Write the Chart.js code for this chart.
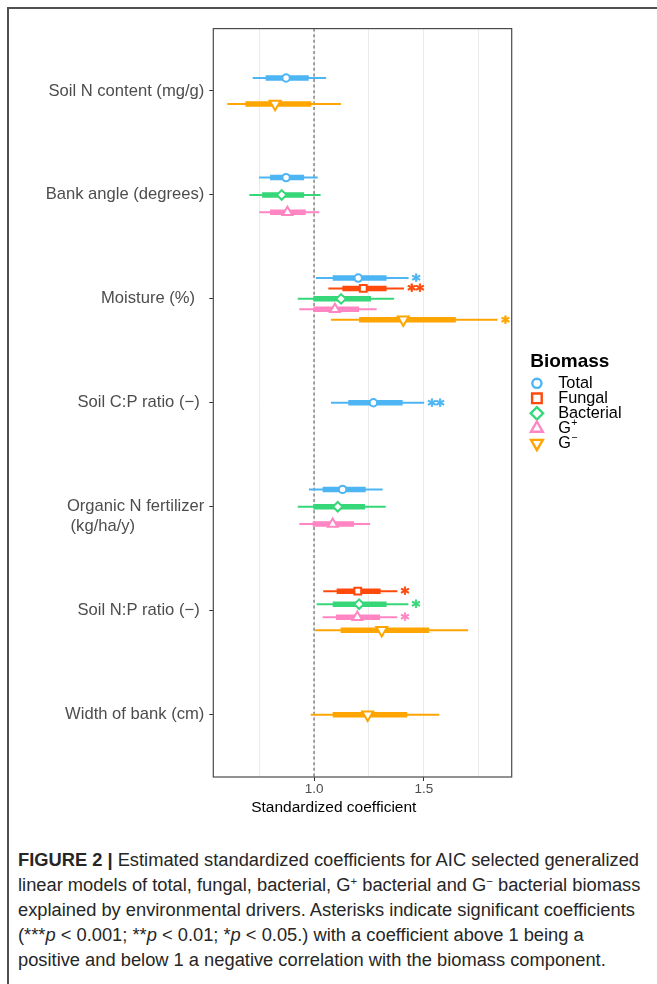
<!DOCTYPE html>
<html>
<head>
<meta charset="utf-8">
<title>Standardized coefficients</title>
<script src="https://cdn.jsdelivr.net/npm/chart.js"></script>
<style>
  html, body { margin: 0; padding: 0; background: #fff; width: 657px; height: 984px; overflow: hidden; }
  #frame { position: absolute; left: 7px; top: 7px; width: 720px; height: 1020px;
           border-top: 2px solid #505050; border-left: 2px solid #505050; }
  #wrap { position: absolute; left: 0; top: 0; width: 657px; height: 830px; }
  #caption { position: absolute; left: 18px; top: 848px; font-family: "Liberation Sans", Arial, sans-serif;
             font-size: 18px; line-height: 25px; color: #262626; white-space: nowrap; transform-origin: 0 0; }
  #caption span.line { display: inline-block; }
  #caption sup { font-size: 0.62em; line-height: 0; vertical-align: 0.5em; }
</style>
</head>
<body>
<div id="frame"></div>
<div id="wrap"><canvas id="chart" width="657" height="830"></canvas></div>
<div id="caption">
  <div><span class="line" id="firstLine"><b>FIGURE 2 |</b> Estimated standardized coefficients for AIC selected generalized</span></div>
  <div><span class="line">linear models of total, fungal, bacterial, G<sup>+</sup> bacterial and G<sup>−</sup> bacterial biomass</span></div>
  <div><span class="line">explained by environmental drivers. Asterisks indicate significant coefficients</span></div>
  <div><span class="line">(***<i>p</i> &lt; 0.001; **<i>p</i> &lt; 0.01; *<i>p</i> &lt; 0.05.) with a coefficient above 1 being a</span></div>
  <div><span class="line">positive and below 1 a negative correlation with the biomass component.</span></div>
</div>
<script>
// Environmental drivers (top to bottom)
const categories = [
  "Soil N content (mg/g)",
  "Bank angle (degrees)",
  "Moisture (%)",
  "Soil C:P ratio (−)",
  "Organic N fertilizer (kg/ha/y)",
  "Soil N:P ratio (−)",
  "Width of bank (cm)"
];

// Axis tick labels as printed next to the panel
const yTickLabels = [
  "Soil N content (mg/g)",
  "Bank angle (degrees)",
  "Moisture (%)  ",
  "Soil C:P ratio (−) ",
  ["", "Organic N fertilizer", " (kg/ha/y)               "],
  "Soil N:P ratio (−) ",
  "Width of bank (cm)"
];
const xGridValues = [0.75, 1.0, 1.25, 1.5, 1.75];
const xTickValues = [1.0, 1.5];
const xTickLabels = ["1.0", "1.5"];

const seriesNames = ["Total", "Fungal", "Bacterial", "G⁺", "G⁻"];

// Rows per driver: estimate, inner low, inner high, outer low, outer high (null = not in model)
const totalCoef = [
  [0.873, 0.780, 0.976, 0.721, 1.055],
  [0.873, 0.800, 0.955, 0.750, 1.017],
  [1.201, 1.085, 1.330, 1.009, 1.430],
  [1.270, 1.156, 1.403, 1.077, 1.501],
  [1.130, 1.039, 1.235, 0.977, 1.312],
  null,
  null
];
const fungalCoef = [
  null,
  null,
  [1.224, 1.129, 1.330, 1.065, 1.409],
  null,
  null,
  [1.199, 1.103, 1.303, 1.042, 1.379],
  null
];
const bacterialCoef = [
  null,
  [0.853, 0.764, 0.955, 0.706, 1.030],
  [1.123, 0.997, 1.259, 0.926, 1.364],
  null,
  [1.108, 0.997, 1.232, 0.926, 1.326],
  [1.205, 1.085, 1.330, 1.012, 1.429],
  null
];
const gPosCoef = [
  null,
  [0.879, 0.800, 0.962, 0.751, 1.024],
  [1.095, 0.997, 1.205, 0.933, 1.285],
  null,
  [1.085, 0.994, 1.182, 0.933, 1.255],
  [1.197, 1.100, 1.300, 1.039, 1.379],
  null
];
const gNegCoef = [
  [0.823, 0.688, 0.988, 0.606, 1.123],
  null,
  [1.406, 1.205, 1.645, 1.077, 1.835],
  null,
  null,
  [1.308, 1.121, 1.524, 1.005, 1.701],
  [1.244, 1.085, 1.424, 0.985, 1.570]
];

// Significance marks per driver
const totalSig     = ["", "", "*", "**", "", "", ""];
const fungalSig    = ["", "", "**", "", "", "*", ""];
const bacterialSig = ["", "", "", "", "", "*", ""];
const gPosSig      = ["", "", "", "", "", "*", ""];
const gNegSig      = ["", "", "*", "", "", "", ""];

const seriesCoef = [totalCoef, fungalCoef, bacterialCoef, gPosCoef, gNegCoef];
const seriesSig = [totalSig, fungalSig, bacterialSig, gPosSig, gNegSig];

// Styling
const seriesColors = ["#4DB5F3", "#FF4A0C", "#36D779", "#FF86C3", "#FFA502"];
const seriesShapes = ["circle", "rect", "rectRot", "triangle", "triangle"];
const seriesRotation = [0, 0, 0, 0, 180];
const seriesRadius = [3.7, 4.8, 4.8, 5.6, 6.3];
const legendRadius = [4.6, 6.8, 6.2, 6.8, 6.8];
const FONT = '"Liberation Sans", Arial, Helvetica, sans-serif';
const STAR_FONT = 'bold 16px "DejaVu Sans", sans-serif';
const DODGE = 0.5;

// Dodge series within each driver according to how many are present
const positions = seriesCoef.map(() => categories.map(() => null));
categories.forEach((_, c) => {
  const present = [];
  seriesCoef.forEach((coef, si) => { if (coef[c]) present.push(si); });
  const n = present.length;
  present.forEach((si, k) => {
    positions[si][c] = c + (k - (n - 1) / 2) * (DODGE / n);
  });
});

const datasets = [{
  label: "reference",
  data: [{ x: 1, y: -0.6 }, { x: 1, y: categories.length - 0.4 }],
  showLine: true, borderColor: "#5c5c5c", borderWidth: 1.1, borderDash: [3, 2.6],
  pointRadius: 0, order: 10
}];

seriesCoef.forEach((coef, si) => {
  const outer = [], inner = [], pts = [];
  coef.forEach((row, c) => {
    if (!row) return;
    const y = positions[si][c];
    outer.push({ x: row[3], y }, { x: row[4], y }, { x: null, y: null });
    inner.push({ x: row[1], y }, { x: row[2], y }, { x: null, y: null });
    pts.push({ x: row[0], y });
  });
  const color = seriesColors[si];
  datasets.push({
    label: seriesNames[si] + " outer", data: outer, showLine: true, spanGaps: false,
    borderColor: color, borderWidth: 2, borderCapStyle: "butt", pointRadius: 0, order: 4
  });
  datasets.push({
    label: seriesNames[si] + " inner", data: inner, showLine: true, spanGaps: false,
    borderColor: color, borderWidth: 5.5, borderCapStyle: "butt", pointRadius: 0, order: 3
  });
  datasets.push({
    label: seriesNames[si], data: pts, showLine: false,
    pointStyle: seriesShapes[si], pointRadius: seriesRadius[si], pointRotation: seriesRotation[si],
    pointBackgroundColor: "#ffffff", pointBorderColor: color, pointBorderWidth: 2, order: 1
  });
});

function markerPath(ctx, shape, x, y, r, rotation) {
  const rad = rotation * Math.PI / 180;
  ctx.beginPath();
  if (shape === "circle") {
    ctx.arc(x, y, r, 0, Math.PI * 2);
  } else if (shape === "rect") {
    const s = r * Math.SQRT1_2;
    ctx.rect(x - s, y - s, 2 * s, 2 * s);
  } else if (shape === "rectRot") {
    ctx.moveTo(x - r, y); ctx.lineTo(x, y - r); ctx.lineTo(x + r, y); ctx.lineTo(x, y + r);
  } else if (shape === "triangle") {
    let a = rad;
    ctx.moveTo(x + Math.sin(a) * r, y - Math.cos(a) * r);
    a += 2 * Math.PI / 3;
    ctx.lineTo(x + Math.sin(a) * r, y - Math.cos(a) * r);
    a += 2 * Math.PI / 3;
    ctx.lineTo(x + Math.sin(a) * r, y - Math.cos(a) * r);
  }
  ctx.closePath();
}

const panelBorder = {
  id: "panelBorder",
  afterDatasetsDraw(chart) {
    const { ctx, chartArea: a } = chart;
    ctx.save();
    ctx.strokeStyle = "#4a4a4a";
    ctx.lineWidth = 1.2;
    ctx.strokeRect(a.left, a.top, a.right - a.left, a.bottom - a.top);
    ctx.restore();
  }
};

const significance = {
  id: "significance",
  afterDatasetsDraw(chart) {
    const { ctx, scales: { x, y } } = chart;
    ctx.save();
    ctx.font = STAR_FONT;
    ctx.textAlign = "left";
    ctx.textBaseline = "alphabetic";
    const m = ctx.measureText("*");
    const lift = (m.actualBoundingBoxAscent - m.actualBoundingBoxDescent) / 2;
    seriesSig.forEach((sig, si) => sig.forEach((s, c) => {
      if (!s) return;
      const row = seriesCoef[si][c];
      ctx.fillStyle = seriesColors[si];
      ctx.strokeStyle = seriesColors[si];
      ctx.lineWidth = 0.8;
      const px = x.getPixelForValue(row[4]) + 3.5;
      const py = y.getPixelForValue(positions[si][c]) + lift;
      ctx.fillText(s, px, py);
      ctx.strokeText(s, px, py);
    }));
    ctx.restore();
  }
};

const axisTitle = {
  id: "axisTitle",
  afterDraw(chart) {
    const { ctx, chartArea: a } = chart;
    ctx.save();
    ctx.font = "15.5px " + FONT;
    ctx.fillStyle = "#000";
    ctx.textAlign = "center";
    ctx.textBaseline = "alphabetic";
    ctx.fillText("Standardized coefficient", a.left + 120.5, a.bottom + 34.5);
    ctx.restore();
  }
};

const biomassLegend = {
  id: "biomassLegend",
  afterDraw(chart) {
    const { ctx, chartArea: a } = chart;
    const left = a.right + 18.5;
    const top = 361.5;
    ctx.save();
    ctx.fillStyle = "#000";
    ctx.textBaseline = "middle";
    ctx.textAlign = "left";
    ctx.font = "bold 19px " + FONT;
    ctx.fillText("Biomass", left, top);
    seriesNames.forEach((name, i) => {
      const y = top + 21.8 + i * 15;
      ctx.lineWidth = 2.4;
      ctx.strokeStyle = seriesColors[i];
      ctx.fillStyle = "#fff";
      markerPath(ctx, seriesShapes[i], left + 6.7, y, legendRadius[i], seriesRotation[i]);
      ctx.fill();
      ctx.stroke();
      ctx.fillStyle = "#000";
      const sup = name.slice(-1);
      if (sup === "⁺" || sup === "⁻") {
        ctx.font = "16.3px " + FONT;
        ctx.fillText(name.slice(0, -1), left + 28, y);
        const w = ctx.measureText(name.slice(0, -1)).width;
        ctx.font = "10.5px " + FONT;
        ctx.fillText(sup === "⁺" ? "+" : "−", left + 28 + w + 0.5, y - 5);
      } else {
        ctx.font = "16.3px " + FONT;
        ctx.fillText(name, left + 28, y);
      }
    });
    ctx.restore();
  }
};

new Chart(document.getElementById("chart"), {
  type: "scatter",
  data: { datasets },
  plugins: [panelBorder, significance, axisTitle, biomassLegend],
  options: {
    responsive: false,
    animation: false,
    events: [],
    layout: { padding: { left: 0, right: 145.3, top: 28.6, bottom: 0 } },
    plugins: { legend: { display: false }, tooltip: { enabled: false } },
    scales: {
      x: {
        type: "linear",
        min: 0.542,
        max: 1.899,
        afterBuildTicks(scale) { scale.ticks = xGridValues.map(v => ({ value: v })); },
        afterFit(scale) { scale.height = 53; },
        border: { display: false },
        grid: {
          color: "#ebebeb",
          lineWidth: 1,
          tickLength: 4,
          tickColor: ctx => (ctx.tick && xTickValues.includes(ctx.tick.value)) ? "#333" : "rgba(0,0,0,0)"
        },
        ticks: {
          autoSkip: false,
          maxRotation: 0,
          padding: 0,
          color: "#4d4d4d",
          font: { family: FONT, size: 13.5 },
          callback: v => {
            const k = xTickValues.indexOf(v);
            return k >= 0 ? xTickLabels[k] : "";
          }
        }
      },
      y: {
        type: "linear",
        reverse: true,
        min: -0.6,
        max: categories.length - 0.4,
        afterBuildTicks(scale) { scale.ticks = categories.map((_, i) => ({ value: i })); },
        afterFit(scale) { scale.width = 213.3; },
        border: { display: false },
        grid: { drawOnChartArea: false, color: "#333", tickLength: 4 },
        ticks: {
          autoSkip: false,
          padding: 5,
          color: "#4d4d4d",
          font: { family: FONT, size: 16.6, lineHeight: 1.2 },
          callback: v => yTickLabels[Math.round(v)]
        }
      }
    }
  }
});

// Fit the caption block to the text column width
(function fitCaption() {
  const cap = document.getElementById("caption");
  const w = document.getElementById("firstLine").getBoundingClientRect().width;
  if (w > 0) cap.style.transform = "scaleX(" + (621 / w) + ")";
})();
</script>
</body>
</html>
